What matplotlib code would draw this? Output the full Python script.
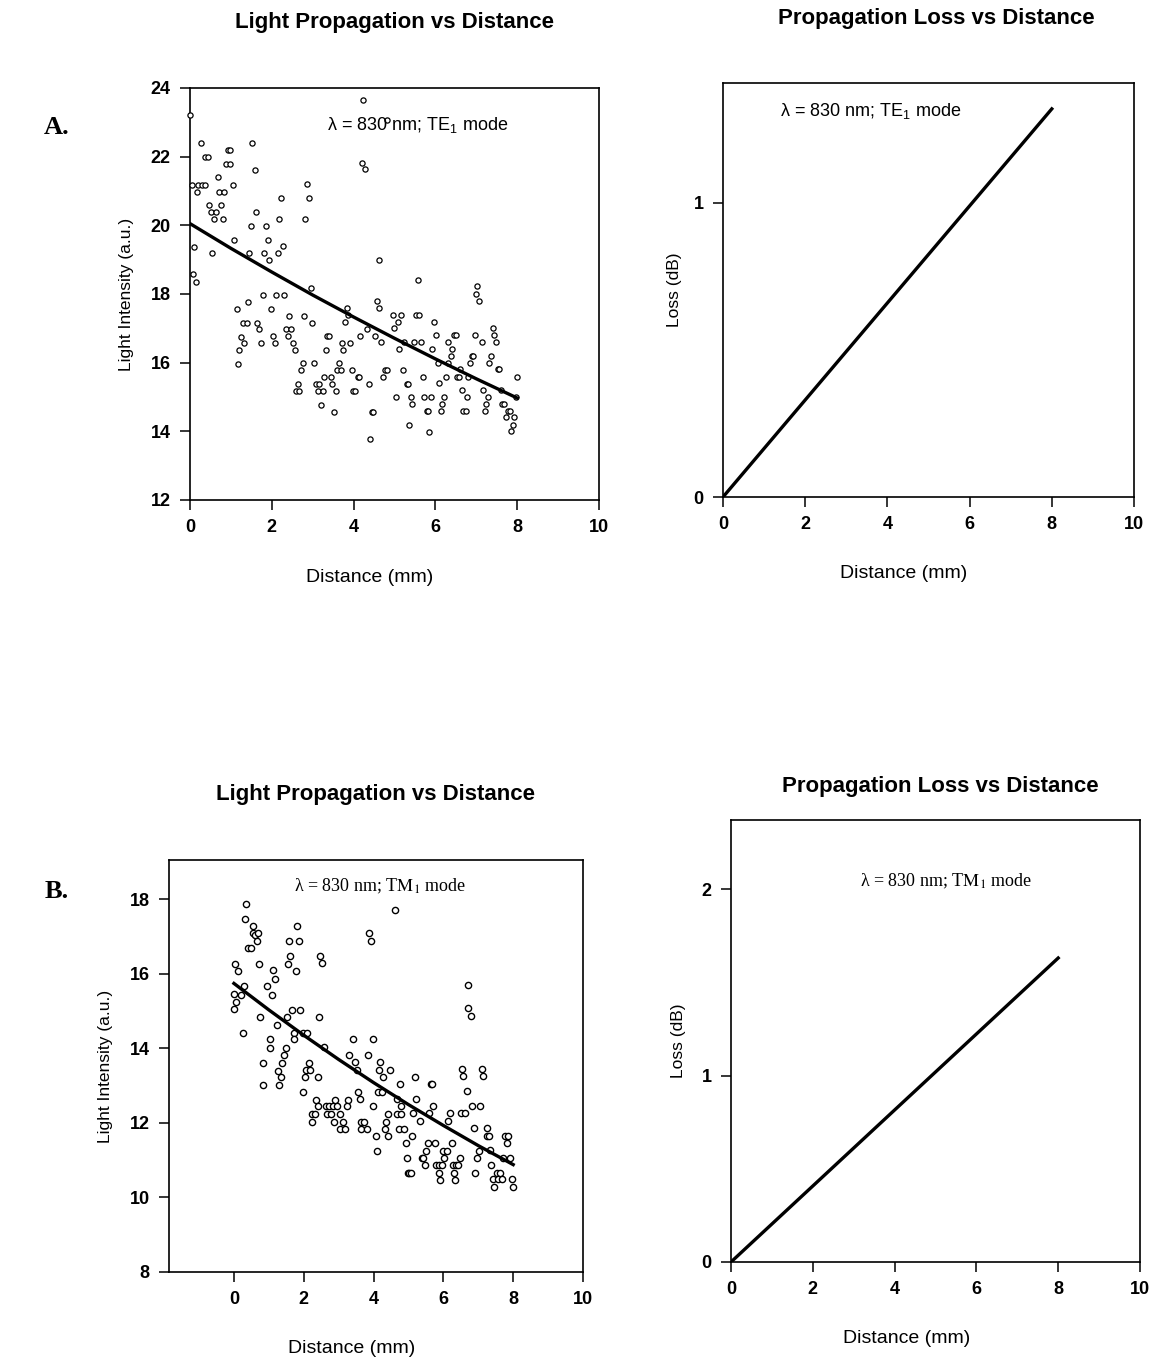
import matplotlib
matplotlib.use("Agg")
import matplotlib.pyplot as plt
import numpy as np

# ---- data ----
# A. TE1 mode, light intensity scatter (distance mm, intensity a.u.)
te_x = [4.22, 0.0, 4.81, 0.27, 1.52, 0.94, 0.97, 0.37, 0.44, 0.88, 0.99, 4.2, 4.28, 1.59, 0.69,
        0.04, 0.2, 0.29, 0.37, 1.04, 2.85, 0.18, 0.72, 0.84, 2.22, 2.91, 0.47, 0.76,
        0.51, 0.64, 1.61, 0.59, 0.8, 2.18, 2.82, 1.48, 1.86, 0.1, 1.08, 1.9, 2.27,
        0.55, 1.45, 1.82, 2.14, 1.94, 4.62, 0.07, 0.15, 2.95, 1.78, 2.1, 2.31, 4.56,
        5.57, 7.02, 6.99, 7.07, 1.14, 1.41, 1.98, 2.43, 2.79, 1.29, 1.39, 1.65, 2.99,
        1.69, 2.35, 2.47, 3.83, 3.87, 3.79, 1.25, 2.02, 2.39, 3.34, 3.39,
        1.33, 1.74, 2.08, 2.52, 3.71, 3.91, 4.16, 4.63, 4.32, 4.52, 4.68,
        1.21, 2.56, 3.32, 3.75, 1.17, 2.76, 3.03, 3.64,
        2.71, 3.59, 3.68, 3.95, 4.77, 4.81, 3.28, 3.44, 4.1, 4.13, 4.72,
        2.64, 3.08, 3.16, 3.48, 4.37, 2.59, 2.67, 3.12, 3.24, 3.56, 3.99, 4.03,
        3.2, 3.51, 4.44, 4.48, 4.4,
        4.96, 5.16, 5.53, 5.61, 5.08, 5.97, 5.0, 7.4,
        6.01, 6.46, 6.5, 6.97, 7.44, 5.24, 5.48, 5.65, 6.32, 7.13, 7.48,
        5.12, 5.92, 6.4, 6.89, 6.93, 7.36, 6.37, 6.06, 6.3, 6.85, 7.32,
        5.2, 6.6, 7.52, 7.56, 5.69, 6.25, 6.54, 6.58, 6.8, 8.0,
        5.3, 5.34, 6.09, 6.66, 7.16, 7.6,
        5.04, 5.4, 5.73, 5.89, 6.21, 6.77, 7.28, 7.96,
        5.44, 6.17, 7.24, 7.64, 7.68,
        5.79, 5.81, 6.13, 6.68, 6.74, 7.21, 7.77, 7.82,
        7.73, 7.93, 7.89, 7.85, 5.36, 5.85]
te_y = [23.65, 23.2, 23.07, 22.4, 22.4, 22.2, 22.2, 22.0, 22.0, 21.8, 21.8, 21.83, 21.63, 21.6, 21.4,
        21.18, 21.18, 21.18, 21.18, 21.18, 21.2, 20.98, 20.98, 20.98, 20.79, 20.79, 20.58, 20.58,
        20.38, 20.38, 20.38, 20.18, 20.18, 20.18, 20.18, 19.98, 19.98, 19.38, 19.57, 19.57, 19.4,
        19.19, 19.19, 19.19, 19.19, 18.99, 18.99, 18.58, 18.36, 18.18, 17.97, 17.97, 17.97, 17.8,
        18.4, 18.23, 18.0, 17.8, 17.56, 17.76, 17.56, 17.37, 17.37, 17.16, 17.16, 17.16, 17.16,
        16.97, 16.97, 16.97, 17.58, 17.39, 17.18, 16.76, 16.78, 16.78, 16.78, 16.78,
        16.56, 16.56, 16.56, 16.58, 16.58, 16.58, 16.79, 17.58, 16.98, 16.79, 16.59,
        16.37, 16.37, 16.37, 16.37, 15.96, 15.98, 15.98, 15.98,
        15.78, 15.78, 15.78, 15.78, 15.79, 15.79, 15.58, 15.58, 15.58, 15.58, 15.58,
        15.38, 15.38, 15.38, 15.38, 15.38, 15.18, 15.18, 15.18, 15.18, 15.18, 15.18, 15.18,
        14.77, 14.57, 14.57, 14.57, 13.78,
        17.4, 17.4, 17.4, 17.4, 17.19, 17.19, 17.0, 17.0,
        16.81, 16.81, 16.81, 16.81, 16.81, 16.59, 16.59, 16.59, 16.59, 16.59, 16.6,
        16.39, 16.39, 16.4, 16.19, 16.19, 16.19, 16.19, 16.0, 16.0, 16.0, 16.0,
        15.79, 15.81, 15.81, 15.81, 15.59, 15.59, 15.59, 15.59, 15.59, 15.59,
        15.38, 15.38, 15.4, 15.2, 15.2, 15.2,
        14.99, 14.99, 14.99, 14.99, 14.99, 14.99, 14.99, 15.0,
        14.79, 14.79, 14.79, 14.8, 14.8,
        14.58, 14.58, 14.58, 14.58, 14.58, 14.58, 14.59, 14.59,
        14.41, 14.41, 14.19, 14.0, 14.18, 13.99]

# fitted curves (read at whole mm)
fit_dist = [0, 1, 2, 3, 4, 5, 6, 7, 8]
te_fit = [20.05, 19.33, 18.64, 17.97, 17.33, 16.71, 16.11, 15.53, 14.97]
tm_fit = [15.74, 15.03, 14.35, 13.70, 13.08, 12.49, 11.93, 11.39, 10.88]

# B. TM1 mode scatter
tm_x = [0.36, 4.61, 0.32, 0.54, 1.82, 0.55, 0.6, 0.7, 0.65, 3.88, 3.92, 1.58, 1.87,
        0.41, 0.48, 1.62, 1.54, 2.48, 2.51, 0.03, 0.73, 0.12, 1.13, 1.17, 1.78,
        0.0, 0.06, 0.01, 0.19, 0.29, 0.94, 1.1, 1.65, 1.89, 0.76, 1.51, 2.44, 1.22,
        0.25, 1.72, 1.97, 2.1, 1.03, 1.73, 3.4, 3.97, 6.71, 6.7, 6.78,
        1.03, 1.48, 1.43, 0.84, 1.38, 1.27, 1.35, 0.82, 1.3,
        2.15, 2.06, 2.18, 2.03, 2.42, 1.99, 2.59, 3.3, 3.47, 3.52, 3.83,
        4.18, 4.15, 4.47, 4.28, 4.76, 3.56, 3.61, 4.12, 4.23,
        2.35, 2.4, 2.89, 3.27, 3.23, 2.64, 2.73, 2.83, 2.96, 3.99, 4.66, 4.8,
        2.25, 2.32, 2.68, 2.78, 3.04, 4.42, 4.66, 4.8,
        2.23, 2.87, 3.13, 3.64, 3.73, 4.36,
        3.04, 3.18, 3.64, 3.8, 4.33, 4.74, 4.88,
        4.06, 4.42, 4.93, 4.09, 4.95, 4.99,
        6.54, 6.57, 7.1, 7.14, 5.19, 5.64, 5.68, 6.67, 5.23, 5.69, 6.83, 7.05,
        5.14, 5.6, 6.19, 6.5, 6.62, 6.14, 5.33,
        6.88, 7.26, 7.26, 7.32, 7.77, 7.86, 7.82,
        5.11, 5.55, 5.76, 6.24, 5.5, 5.98, 6.11, 7.02, 7.34,
        5.38, 5.43, 6.03, 6.48, 6.97, 7.72, 7.91,
        5.47, 5.79, 5.88, 5.95, 6.27, 6.36, 6.43, 7.36,
        5.02, 5.07, 5.88, 6.31, 6.91, 7.53, 7.62,
        7.43, 7.56, 7.67, 7.96, 5.9, 6.33, 7.46, 8.0]
tm_y = [17.88, 17.7, 17.48, 17.27, 17.27, 17.1, 17.05, 17.08, 16.88, 17.09, 16.88, 16.88, 16.88,
        16.68, 16.68, 16.47, 16.27, 16.47, 16.29, 16.27, 16.27, 16.06, 16.09, 15.87, 16.06,
        15.46, 15.24, 15.06, 15.44, 15.66, 15.66, 15.44, 15.04, 15.04, 14.85, 14.85, 14.85, 14.63,
        14.42, 14.42, 14.42, 14.42, 14.24, 14.24, 14.24, 14.24, 15.69, 15.08, 14.87,
        14.01, 14.01, 13.81, 13.61, 13.61, 13.4, 13.22, 13.02, 13.02,
        13.61, 13.42, 13.42, 13.22, 13.22, 12.83, 14.03, 13.83, 13.63, 13.42, 13.83,
        13.63, 13.42, 13.42, 13.22, 13.05, 12.84, 12.64, 12.84, 12.84,
        12.62, 12.44, 12.62, 12.62, 12.44, 12.44, 12.44, 12.44, 12.44, 12.44, 12.64, 12.44,
        12.24, 12.24, 12.24, 12.24, 12.24, 12.24, 12.24, 12.24,
        12.03, 12.03, 12.03, 12.03, 12.03, 12.03,
        11.84, 11.84, 11.84, 11.84, 11.84, 11.84, 11.84,
        11.64, 11.64, 11.45, 11.25, 11.06, 10.65,
        13.45, 13.25, 13.45, 13.25, 13.24, 13.05, 13.05, 12.85, 12.64, 12.45, 12.45, 12.45,
        12.26, 12.26, 12.26, 12.26, 12.26, 12.04, 12.04,
        11.85, 11.85, 11.65, 11.65, 11.66, 11.66, 11.46,
        11.66, 11.46, 11.46, 11.46, 11.25, 11.25, 11.25, 11.25, 11.26,
        11.06, 11.06, 11.06, 11.06, 11.07, 11.07, 11.07,
        10.87, 10.87, 10.87, 10.87, 10.87, 10.87, 10.87, 10.87,
        10.66, 10.66, 10.66, 10.66, 10.66, 10.66, 10.66,
        10.49, 10.49, 10.49, 10.49, 10.48, 10.48, 10.28, 10.28]

# propagation loss lines (dB)
loss_dist = [0, 8]
te_loss = [0.0, 1.32]
tm_loss = [0.0, 1.63]

dist_ticks = [0, 2, 4, 6, 8, 10]

plt.rcParams["font.family"] = ["Liberation Sans", "DejaVu Sans"]
plt.rcParams["mathtext.fontset"] = "custom"
plt.rcParams["mathtext.rm"] = "Liberation Sans"
plt.rcParams["mathtext.it"] = "Liberation Sans:italic"
plt.rcParams["mathtext.bf"] = "Liberation Sans:bold"

W, H = 1160, 1361
fig = plt.figure(figsize=(W / 100, H / 100), dpi=100)


def box(l, t, r, b):
    return fig.add_axes([l / W, 1 - b / H, (r - l) / W, (b - t) / H])


def style(ax):
    for s in ax.spines.values():
        s.set_linewidth(1.2)
        s.set_color("black")
    ax.tick_params(direction="out", length=7, width=1.1, pad=7, labelsize=13)
    for lab in ax.get_xticklabels() + ax.get_yticklabels():
        lab.set_fontweight("bold")


def title(ax, s, x, y):
    ax.text(x, y, s, transform=ax.transAxes, ha="center", va="center",
            fontsize=16, fontweight="bold")


ax1 = box(190, 88, 599, 500)
ax2 = box(723, 83, 1134, 497)
ax3 = box(169, 860, 583, 1272)
ax4 = box(731, 820, 1140, 1262)

# A. light propagation
ax1.scatter(te_x, te_y, s=14, facecolors="white", edgecolors="black", linewidths=0.9,
            zorder=3, clip_on=False)
ax1.plot(fit_dist, te_fit, color="black", lw=2.4, zorder=4)
ax1.set_xlim(0, 10)
ax1.set_ylim(12, 24)
ax1.set_xticks(dist_ticks)
ax1.set_yticks([12, 14, 16, 18, 20, 22, 24])
style(ax1)
ax1.set_xlabel("Distance (mm)", fontsize=14)
ax1.set_ylabel("Light Intensity (a.u.)", fontsize=12.5)
ax1.xaxis.set_label_coords(0.44, -0.167)
ax1.yaxis.set_label_coords(-0.137, 0.5)
ax1.text(0.557, 0.91, r"λ = 830 nm; T$\mathrm{E}_1$ mode", transform=ax1.transAxes,
         ha="center", va="center", fontsize=13, math_fontfamily="custom")
title(ax1, "Light Propagation vs Distance", 0.5, 1.160)

# A. loss
ax2.plot(loss_dist, te_loss, color="black", lw=2.4)
ax2.set_xlim(0, 10)
ax2.set_ylim(0, 1.408)
ax2.set_xticks(dist_ticks)
ax2.set_yticks([0, 1])
style(ax2)
ax2.set_xlabel("Distance (mm)", fontsize=14)
ax2.set_ylabel("Loss (dB)", fontsize=12.5)
ax2.xaxis.set_label_coords(0.44, -0.164)
ax2.yaxis.set_label_coords(-0.100, 0.5)
ax2.text(0.36, 0.932, r"λ = 830 nm; T$\mathrm{E}_1$ mode", transform=ax2.transAxes,
         ha="center", va="center", fontsize=13, math_fontfamily="custom")
title(ax2, "Propagation Loss vs Distance", 0.52, 1.157)

# B. light propagation
ax3.scatter(tm_x, tm_y, s=20, facecolors="white", edgecolors="black", linewidths=1.0,
            zorder=3)
ax3.plot(fit_dist, tm_fit, color="black", lw=2.4, zorder=4)
ax3.set_xlim(-1.86, 10)
ax3.set_ylim(8, 19.05)
ax3.set_xticks(dist_ticks)
ax3.set_yticks([8, 10, 12, 14, 16, 18])
style(ax3)
ax3.set_xlabel("Distance (mm)", fontsize=14)
ax3.set_ylabel("Light Intensity (a.u.)", fontsize=12.5)
ax3.xaxis.set_label_coords(0.441, -0.165)
ax3.yaxis.set_label_coords(-0.135, 0.5)
ax3.text(0.51, 0.937, r"λ = 830 nm; T$\mathrm{M}_1$ mode", transform=ax3.transAxes,
         ha="center", va="center", fontsize=13, family="Liberation Serif",
         math_fontfamily="stix")
title(ax3, "Light Propagation vs Distance", 0.498, 1.158)

# B. loss
ax4.plot(loss_dist, tm_loss, color="black", lw=2.4)
ax4.set_xlim(0, 10)
ax4.set_ylim(0, 2.37)
ax4.set_xticks(dist_ticks)
ax4.set_yticks([0, 1, 2])
style(ax4)
ax4.set_xlabel("Distance (mm)", fontsize=14)
ax4.set_ylabel("Loss (dB)", fontsize=12.5)
ax4.xaxis.set_label_coords(0.43, -0.154)
ax4.yaxis.set_label_coords(-0.110, 0.5)
ax4.text(0.526, 0.862, r"λ = 830 nm; T$\mathrm{M}_1$ mode", transform=ax4.transAxes,
         ha="center", va="center", fontsize=13, family="Liberation Serif",
         math_fontfamily="stix")
title(ax4, "Propagation Loss vs Distance", 0.511, 1.075)

fig.text(57 / W, 1 - 127 / H, "A.", ha="center", va="center", fontsize=19,
         fontweight="bold", family="Liberation Serif")
fig.text(57 / W, 1 - 892 / H, "B.", ha="center", va="center", fontsize=19,
         fontweight="bold", family="Liberation Serif")

fig.savefig("out.png", dpi=100, facecolor="white")
